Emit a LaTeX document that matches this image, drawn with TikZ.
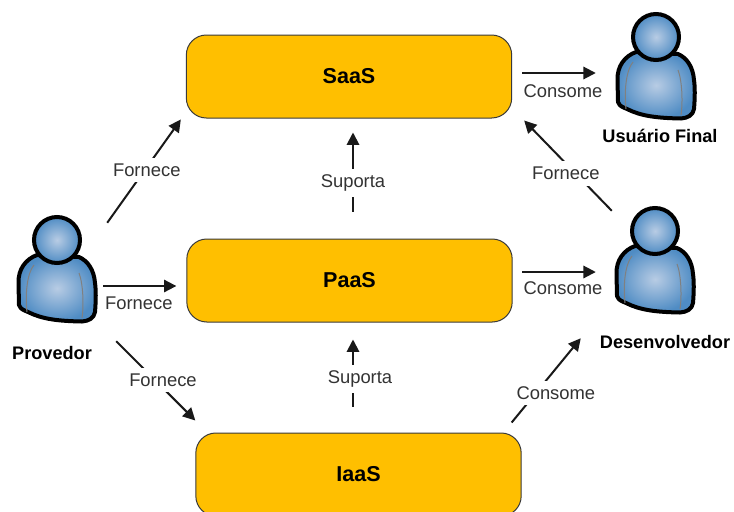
\documentclass[tikz,border=0pt]{standalone}
\usepackage{fontspec}
\usepackage{xcolor}
\setmainfont{Liberation Sans}
\usetikzlibrary{arrows.meta}
\definecolor{layerFill}{HTML}{FFBF00}
\definecolor{layerEdge}{HTML}{3A3A3A}
\definecolor{personIn}{HTML}{B8CCE4}
\definecolor{personOut}{HTML}{4F8CC4}
\tikzset{
    layerbox/.style={draw=layerEdge, line width=0.3mm, fill=layerFill, rounded corners=6mm, minimum width=97.6mm, minimum height=24.9mm, font=\fontsize{18.4}{22}\selectfont\bfseries},
    personbox/.style={minimum width=24mm, minimum height=32.4mm, inner sep=0pt},
    flow/.style={-{Triangle[length=3.7mm,width=3.7mm]}, line width=0.6mm, black!90},
    lbl/.style={fill=white, inner xsep=2pt, inner ysep=5pt, text=black!80, font=\fontsize{15.7}{18}\selectfont},
    lblplain/.style={lbl, inner ysep=0pt},
    role/.style={inner sep=0pt, font=\fontsize{15.5}{18}\selectfont\bfseries},
    person/.pic={
        \draw [line width=1.2mm, line join=round, inner color=personIn, outer color=personOut]
            (-20,-15) .. controls (-31,-11) and (-39,-1) .. (-38.5,13)
            -- (-38,35) .. controls (-36,40) and (-33,40) .. (-29,42)
            .. controls (-15,49) and (0,51) .. (25,51.5)
            .. controls (32,51) and (37,48) .. (38,42)
            .. controls (39,30) and (39,20) .. (38,13)
            .. controls (37,0) and (31,-9) .. (22,-13) -- cycle;
        \draw [black!50, line width=0.3mm] (-23,-5) .. controls (-30,3) and (-32,25) .. (-30,42);
        \draw [black!50, line width=0.3mm] (22,3) .. controls (26,13) and (27,35) .. (25,48);
        \draw [line width=1.2mm, inner color=personIn, outer color=personOut] (0,-30) circle [radius=23];
    }
}
\begin{document}
\begin{tikzpicture}[x=0.3mm, y=-0.3mm]
    \useasboundingbox (0,0) rectangle (734,511);
    \clip (0,0) rectangle (734,511);
    \node [layerbox] (saas) at (349,76.5) {SaaS};
    \node [layerbox] (paas) at (349.5,280.5) {PaaS};
    \node [layerbox] (iaas) at (358.5,474.5) {IaaS};
    \node [personbox] (provedor) at (57,270) {};
    \node [personbox] (usuario) at (656,67) {};
    \node [personbox] (desenvolvedor) at (655,261) {};
    \pic at (provedor) {person};
    \pic at (usuario) {person};
    \pic at (desenvolvedor) {person};
    \node [role] (provedorName) at (52,353) {Provedor};
    \node [role] (usuarioName) at (660,136) {Usuário Final};
    \node [role] (desenvolvedorName) at (665,342) {Desenvolvedor};
    \draw [flow] ([shift={(10,-3.5)}]saas.east) -- node [lblplain, shift={(4,18)}] {Consome} ([shift={(-20,6)}]usuario.west);
    \draw [flow] ([shift={(9.5,-8.5)}]paas.east) -- node [lblplain, shift={(4,16)}] {Consome} ([shift={(-19,11)}]desenvolvedor.west);
    \draw [flow] ([shift={(6,16)}]provedor.east) -- node [lblplain, shift={(-1,17)}] {Fornece} ([shift={(-10,5.5)}]paas.west);
    \draw [flow] ([shift={(10,7)}]provedor.north east) -- node [lbl, pos=0.51, shift={(2,0)}] {Fornece} ([shift={(-5,1)}]saas.south west);
    \draw [flow] ([shift={(19,17)}]provedor.south east) -- node [lbl, pos=0.49, shift={(8,0)}] {Fornece} ([shift={(0,-12)}]iaas.north west);
    \draw [flow] ([shift={(3.5,-27)}]paas.north) -- node [lbl, pos=0.36] {Suporta} ([shift={(4,14)}]saas.south);
    \draw [flow] ([shift={(-5.5,-26)}]iaas.north) -- node [lbl, pos=0.41, shift={(7,0)}] {Suporta} ([shift={(3.5,17)}]paas.south);
    \draw [flow] ([shift={(-3,4)}]desenvolvedor.north west) -- node [lbl, pos=0.41, shift={(-10,0)}] {Fornece} ([shift={(12,2)}]saas.south east);
    \draw [flow] ([shift={(-10,-10)}]iaas.north east) -- node [lbl, pos=0.35, shift={(20,0)}] {Consome} ([shift={(-34,23)}]desenvolvedor.south west);
\end{tikzpicture}
\end{document}
